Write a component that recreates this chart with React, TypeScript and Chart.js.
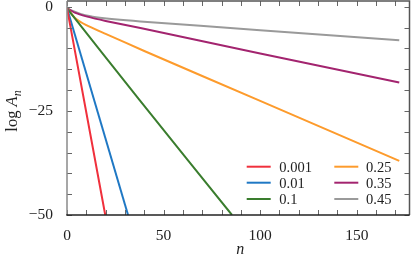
import React, { useEffect, useRef } from 'react';
import { Chart, registerables } from 'chart.js';
Chart.register(...registerables);

// ---- data ----
const seriesLabels = ['0.001', '0.01', '0.1', '0.25', '0.35', '0.45'];
const seriesColors = ['#f0303c', '#1f78c4', '#3a7d2e', '#fd9b2c', '#a3246f', '#9a9a9a'];

const n0001 = [0, 19.8];
const log0001 = [-0.3, -50];
const n001 = [0, 31.6];
const log001 = [-0.3, -50];
const n01 = [0, 37.6, 85.4];
const log01 = [-0.4, -22.4, -50];
const n025 = [0, 4, 10, 20, 40, 100, 172];
const log025 = [-0.3, -2.6, -4.4, -6.5, -10.6, -22.6, -37.0];
const n035 = [0, 4, 10, 20, 38, 100, 172];
const log035 = [-0.3, -1.4, -2.3, -3.4, -5.1, -11.2, -18.2];
const n045 = [0, 3, 7, 15, 38, 100, 172];
const log045 = [-0.3, -1.0, -1.7, -2.5, -3.5, -5.6, -8.0];

const seriesN = [n0001, n001, n01, n025, n035, n045];
const seriesLog = [log0001, log001, log01, log025, log035, log045];

const xLabeled = [0, 50, 100, 150];
const yLabeled = [0, -25, -50];

const X_MIN = 0;
const X_MAX = 177.3;
const Y_MIN = -50;
const Y_MAX = 1.4;

const SERIF = "'Liberation Serif', 'DejaVu Serif', serif";

const fmt = (v: number) => (v < 0 ? '\u2212' + Math.abs(v) : String(v));

const framePlugin = {
  id: 'frame',
  afterDatasetsDraw(chart: any) {
    const { ctx, chartArea: a, scales } = chart;
    const xs = scales.x;
    const ys = scales.y;
    const L = 5;
    ctx.save();
    // ticks
    ctx.strokeStyle = '#666';
    ctx.lineWidth = 1;
    ctx.beginPath();
    for (const t of xs.ticks) {
      const px = Math.round(xs.getPixelForValue(t.value)) + 0.5;
      ctx.moveTo(px, a.bottom);
      ctx.lineTo(px, a.bottom - L);
      ctx.moveTo(px, a.top);
      ctx.lineTo(px, a.top + L);
    }
    for (const t of ys.ticks) {
      const py = Math.round(ys.getPixelForValue(t.value)) + 0.5;
      ctx.moveTo(a.left, py);
      ctx.lineTo(a.left + L, py);
      ctx.moveTo(a.right, py);
      ctx.lineTo(a.right - L, py);
    }
    ctx.stroke();
    // borders
    ctx.lineWidth = 1.5;
    ctx.strokeStyle = '#555';
    ctx.beginPath();
    ctx.moveTo(a.left, a.top);
    ctx.lineTo(a.right, a.top);
    ctx.lineTo(a.right, a.bottom);
    ctx.stroke();
    ctx.strokeStyle = '#8a8a8a';
    ctx.beginPath();
    ctx.moveTo(a.left, a.top);
    ctx.lineTo(a.left, a.bottom);
    ctx.stroke();
    ctx.strokeStyle = '#222';
    ctx.beginPath();
    ctx.moveTo(a.left - 0.75, a.bottom);
    ctx.lineTo(a.right, a.bottom);
    ctx.stroke();

    // legend
    const rowY = [166.7, 182.7, 199];
    const colLineX = [246.7, 334.3];
    const colTextX = [279.3, 366];
    ctx.font = `14.5px ${SERIF}`;
    ctx.textBaseline = 'middle';
    ctx.textAlign = 'left';
    chart.data.datasets.forEach((ds: any, i: number) => {
      const c = Math.floor(i / 3);
      const r = i % 3;
      ctx.strokeStyle = ds.borderColor;
      ctx.lineWidth = 2;
      ctx.beginPath();
      ctx.moveTo(colLineX[c], rowY[r]);
      ctx.lineTo(colLineX[c] + 24, rowY[r]);
      ctx.stroke();
      ctx.fillStyle = '#222';
      ctx.fillText(ds.label, colTextX[c], rowY[r] + 1);
    });

    // x title
    ctx.font = `italic 16px ${SERIF}`;
    ctx.textAlign = 'center';
    ctx.fillStyle = '#222';
    ctx.fillText('n', (a.left + a.right) / 2 + 2, 250);

    // y title: log A_n
    ctx.translate(12, 111);
    ctx.rotate(-Math.PI / 2);
    ctx.textAlign = 'left';
    ctx.textBaseline = 'alphabetic';
    const f1 = `16.5px ${SERIF}`;
    const f2 = `italic 16.5px ${SERIF}`;
    const f3 = `italic 12px ${SERIF}`;
    ctx.font = f1;
    const w1 = ctx.measureText('log ').width;
    ctx.font = f2;
    const w2 = ctx.measureText('A').width;
    ctx.font = f3;
    const w3 = ctx.measureText('n').width;
    const total = w1 + w2 + w3;
    let x = -total / 2;
    ctx.font = f1;
    ctx.fillText('log ', x, 5);
    x += w1;
    ctx.font = f2;
    ctx.fillText('A', x, 5);
    x += w2;
    ctx.font = f3;
    ctx.fillText('n', x, 8.5);
    ctx.restore();
  },
};

export default function App() {
  const ref = useRef<HTMLCanvasElement>(null);
  useEffect(() => {
    if (!ref.current) return;
    const datasets = seriesLabels.map((lab, i) => ({
      label: lab,
      data: seriesN[i].map((n, j) => ({ x: n, y: seriesLog[i][j] })),
      borderColor: seriesColors[i],
      backgroundColor: seriesColors[i],
      borderWidth: 2,
      pointRadius: 0,
      tension: 0.2,
      fill: false,
    }));
    const chart = new Chart(ref.current, {
      type: 'line',
      data: { datasets },
      plugins: [framePlugin],
      options: {
        animation: false,
        responsive: false,
        layout: { padding: { left: 0, top: 1, right: 5.5, bottom: 0 } },
        plugins: { legend: { display: false }, tooltip: { enabled: false } },
        scales: {
          x: {
            type: 'linear',
            min: X_MIN,
            max: X_MAX,
            grid: { display: false, drawTicks: false },
            border: { display: false },
            ticks: {
              stepSize: 10,
              includeBounds: false,
              autoSkip: false,
              maxRotation: 0,
              padding: 12,
              color: '#222',
              font: { family: SERIF, size: 15.5 },
              callback: (v: any) => (xLabeled.includes(Number(v)) ? fmt(Number(v)) : ''),
            },
            afterFit: (s: any) => {
              s.height = 46;
              s.paddingLeft = 0;
              s.paddingRight = 0;
            },
          },
          y: {
            type: 'linear',
            min: Y_MIN,
            max: Y_MAX,
            grid: { display: false, drawTicks: false },
            border: { display: false },
            ticks: {
              stepSize: 5,
              includeBounds: false,
              autoSkip: false,
              padding: 14,
              color: '#222',
              font: { family: SERIF, size: 15.5 },
              callback: (v: any) => (yLabeled.includes(Number(v)) ? fmt(Number(v)) : ''),
            },
            afterFit: (s: any) => {
              s.width = 67;
              s.paddingTop = 0;
              s.paddingBottom = 0;
            },
          },
        },
      },
    });
    return () => chart.destroy();
  }, []);
  return (
    <div style={{ position: 'fixed', left: 0, top: 0, width: 415, height: 261, background: '#fff' }}>
      <canvas ref={ref} width={415} height={261} />
    </div>
  );
}
